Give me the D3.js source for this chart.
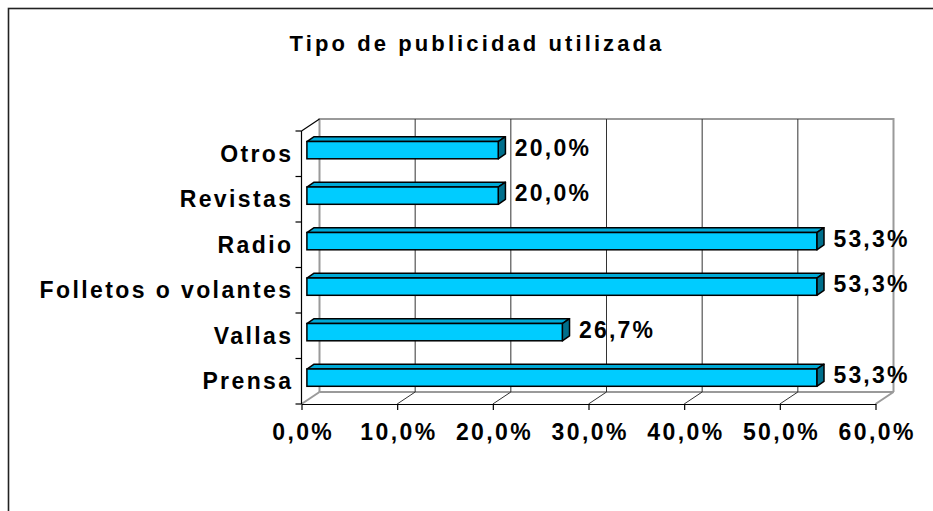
<!DOCTYPE html>
<html>
<head>
<meta charset="utf-8">
<script src="https://cdn.jsdelivr.net/npm/d3@7"></script>
<style>
  body { margin: 0; background: #fff; }
  text { font-family: "Liberation Sans", Arial, sans-serif; font-weight: bold; fill: #000; }
</style>
</head>
<body>
<div id="chart"></div>
<script>
var categories = ["Otros", "Revistas", "Radio", "Folletos o volantes", "Vallas", "Prensa"];
var values = [20.0, 20.0, 53.3, 53.3, 26.7, 53.3];
var tickValues = [0, 10, 20, 30, 40, 50, 60];
var title = "Tipo de publicidad utilizada";

var width = 933, height = 511;
// depth of the 3d box: shift for a point at the back wall
var depthX = 18, depthY = -12;
var barFront = 0.3, barBack = 0.7;

var svg = d3.select("#chart").append("svg")
    .attr("width", width)
    .attr("height", height);

// outer frame (runs off the page on right and bottom)
svg.append("rect")
    .attr("x", 8.5).attr("y", 8.5)
    .attr("width", 1000).attr("height", 1000)
    .attr("fill", "none")
    .attr("stroke", "#222")
    .attr("stroke-width", 1.6);

svg.append("text")
    .attr("x", 477).attr("y", 51)
    .attr("text-anchor", "middle")
    .attr("font-size", 22)
    .style("letter-spacing", "3.1px")
    .text(title);

var x = d3.scaleLinear().domain([0, 60]).range([301.5, 875.5]);
var y = d3.scaleBand().domain(categories).range([131, 404]);

var x0 = x(0), x1 = x(60), yTop = y.range()[0], yBot = y.range()[1];
var grey = "#9a9a9a";

var box = svg.append("g");
// back wall
box.append("path")
    .attr("d", "M" + (x0 + depthX) + "," + (yBot + depthY) +
               "V" + (yTop + depthY) + "H" + (x1 + depthX) + "V" + (yBot + depthY))
    .attr("fill", "none").attr("stroke", grey).attr("stroke-width", 2);
// back floor edge
box.append("line")
    .attr("x1", x0 + depthX).attr("x2", x1 + depthX)
    .attr("y1", yBot + depthY).attr("y2", yBot + depthY)
    .attr("stroke", grey).attr("stroke-width", 2);
// grid lines on back wall
box.selectAll(".grid").data(tickValues.slice(1, -1))
  .enter().append("line")
    .attr("class", "grid")
    .attr("x1", d => x(d) + depthX).attr("x2", d => x(d) + depthX)
    .attr("y1", yTop + depthY).attr("y2", yBot + depthY)
    .attr("stroke", "#333").attr("stroke-width", 1);
// grid lines on floor
box.selectAll(".floor").data(tickValues)
  .enter().append("line")
    .attr("class", "floor")
    .attr("x1", d => x(d)).attr("x2", d => x(d) + depthX)
    .attr("y1", yBot).attr("y2", yBot + depthY)
    .attr("stroke", (d, i) => (i == 0 || i == tickValues.length - 1) ? grey : "#333")
    .attr("stroke-width", (d, i) => (i == 0 || i == tickValues.length - 1) ? 2 : 1);
// left wall top edge
box.append("line")
    .attr("x1", x0).attr("x2", x0 + depthX)
    .attr("y1", yTop).attr("y2", yTop + depthY)
    .attr("stroke", "#000").attr("stroke-width", 1.2);

// bars
var barH = y.bandwidth() * 0.38;
var fx = barFront * depthX, fy = barFront * depthY;
var bx = barBack * depthX, by = barBack * depthY;

var bars = svg.selectAll(".bar").data(categories)
  .enter().append("g").attr("class", "bar");

bars.append("path")
    .attr("d", function(d, i) {
        var yc = y(d) + y.bandwidth() / 2, xe = x(values[i]);
        return "M" + (x0 + fx) + "," + (yc - barH / 2 + fy) +
               "L" + (x0 + bx) + "," + (yc - barH / 2 + by) +
               "L" + (xe + bx) + "," + (yc - barH / 2 + by) +
               "L" + (xe + fx) + "," + (yc - barH / 2 + fy) + "Z";
    })
    .attr("fill", "#00a9d6").attr("stroke", "#000").attr("stroke-width", 1.5)
    .attr("stroke-linejoin", "round");

bars.append("path")
    .attr("d", function(d, i) {
        var yc = y(d) + y.bandwidth() / 2, xe = x(values[i]);
        return "M" + (xe + fx) + "," + (yc - barH / 2 + fy) +
               "L" + (xe + bx) + "," + (yc - barH / 2 + by) +
               "L" + (xe + bx) + "," + (yc + barH / 2 + by) +
               "L" + (xe + fx) + "," + (yc + barH / 2 + fy) + "Z";
    })
    .attr("fill", "#006f8c").attr("stroke", "#000").attr("stroke-width", 1.5)
    .attr("stroke-linejoin", "round");

bars.append("rect")
    .attr("x", x0 + fx)
    .attr("y", d => y(d) + y.bandwidth() / 2 - barH / 2 + fy)
    .attr("width", (d, i) => x(values[i]) - x0)
    .attr("height", barH)
    .attr("fill", "#00ccff").attr("stroke", "#000").attr("stroke-width", 1.5);

// value labels
var fmt = d => d3.format(".1f")(d).replace(".", ",");
svg.selectAll(".val").data(categories)
  .enter().append("text")
    .attr("class", "val")
    .attr("x", (d, i) => x(values[i]) + 22)
    .attr("y", d => y(d) + y.bandwidth() / 2 + 2)
    .attr("font-size", 23)
    .style("letter-spacing", "2.2px")
    .text((d, i) => fmt(values[i]) + "%");

// category axis
var left = svg.append("g");
left.append("line")
    .attr("x1", x0).attr("x2", x0).attr("y1", yTop).attr("y2", yBot)
    .attr("stroke", "#000").attr("stroke-width", 1.2);
left.selectAll(".ltick").data(d3.range(categories.length + 1))
  .enter().append("line")
    .attr("x1", x0 - 6).attr("x2", x0)
    .attr("y1", i => yTop + i * y.step()).attr("y2", i => yTop + i * y.step())
    .attr("stroke", "#000").attr("stroke-width", 1.2);
left.selectAll(".cat").data(categories)
  .enter().append("text")
    .attr("class", "cat")
    .attr("x", 293.5)
    .attr("y", d => y(d) + y.bandwidth() / 2 + 8)
    .attr("text-anchor", "end")
    .attr("font-size", 23)
    .style("letter-spacing", "2.4px")
    .text(d => d);

// value axis
var xAxis = d3.axisBottom(x)
    .tickValues(tickValues)
    .tickSize(6)
    .tickSizeOuter(0)
    .tickFormat(d => fmt(d) + "%");

var gx = svg.append("g")
    .attr("transform", "translate(0," + yBot + ")")
    .call(xAxis);
gx.select(".domain").attr("stroke", "#000").attr("stroke-width", 1.2);
gx.selectAll(".tick line").attr("stroke", "#000").attr("stroke-width", 1.2);
gx.selectAll(".tick text")
    .attr("y", 20)
    .attr("dx", "1.2px")
    .attr("font-size", 23)
    .attr("font-family", null)
    .style("letter-spacing", "2.4px")
    .attr("fill", "#000");
</script>
</body>
</html>
